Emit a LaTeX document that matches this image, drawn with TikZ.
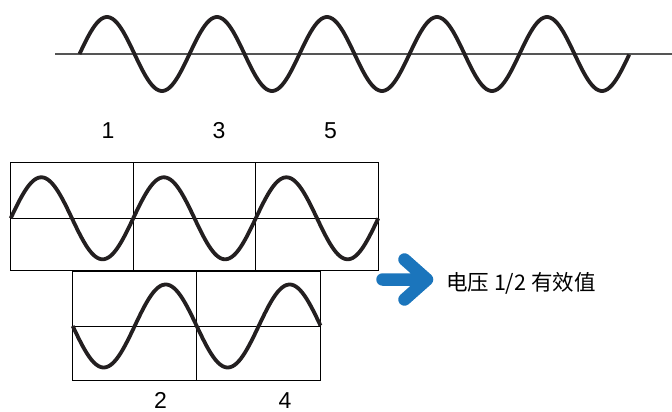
\documentclass[tikz,border=0pt]{standalone}
\usepackage{fontspec}
\setmainfont{Liberation Sans}
\newfontfamily\cjk{Noto Sans CJK SC}
\usepackage{tikz}
\usetikzlibrary{calc}
\definecolor{WaveInk}  {HTML}{231F20}
\definecolor{AxisGray} {HTML}{555555}
\definecolor{ArrowBlue}{HTML}{1B75BC}

\begin{document}
\begin{tikzpicture}[
  x=1pt, y=-1pt,
  wave/.style={WaveInk, line width=3.8pt, line join=round},
  grid/.style={black, line width=0.9pt},
  num/.style={font=\fontsize{23}{23}\selectfont, inner sep=0pt},
]
\useasboundingbox (0,0) rectangle (672,412);

% Continuous signal
\draw[AxisGray, line width=1.6pt] (55,54) -- (672,54);
\draw[wave] plot[domain=0:5, samples=251] ({79.5+110*\x},{54-37*sin(360*\x)});

% Odd periods
\foreach \n/\px in {1/108, 3/219, 5/330.5}
  \node[num] (odd\n) at (\px,131) {\n};

% Upper frame (periods 1, 3, 5)
\draw[grid] (10.7,162.7) rectangle (378.3,270.7);
\draw[grid] (10.7,218.3) -- (378.3,218.3);
\foreach \x in {133.2, 255.8}
  \draw[grid] (\x,162.7) -- (\x,270.7);
\draw[wave] plot[domain=0:3, samples=201] ({10.7+122.53*\x},{218.3-41*sin(360*\x)});

% Lower frame (periods 2, 4)
\draw[grid] (72.7,271) rectangle (320.7,380);
\draw[grid, line width=1.6pt] (72.7,271) -- (320.7,271);
\draw[grid] (72.7,326) -- (320.7,326);
\draw[grid] (196.7,271) -- (196.7,380);
\draw[wave] plot[domain=0:2, samples=151] ({72.7+124*\x},{326+41.5*sin(360*\x)});

% Even periods
\foreach \n/\px in {2/160.5, 4/285}
  \node[num] (even\n) at (\px,400.5) {\n};

% Result
\node[anchor=west, inner sep=0pt, font=\cjk\fontsize{21.5}{21.5}\selectfont] (rms) at (446,283) {电压 1/2 有效值};
\draw[ArrowBlue, line width=12.5pt, line cap=round, line join=round]
  (382.5,279.5) -- (427,279.5)
  (404.5,259.5) -- (427,279.5) -- (404.5,299.5);

\end{tikzpicture}
\end{document}
